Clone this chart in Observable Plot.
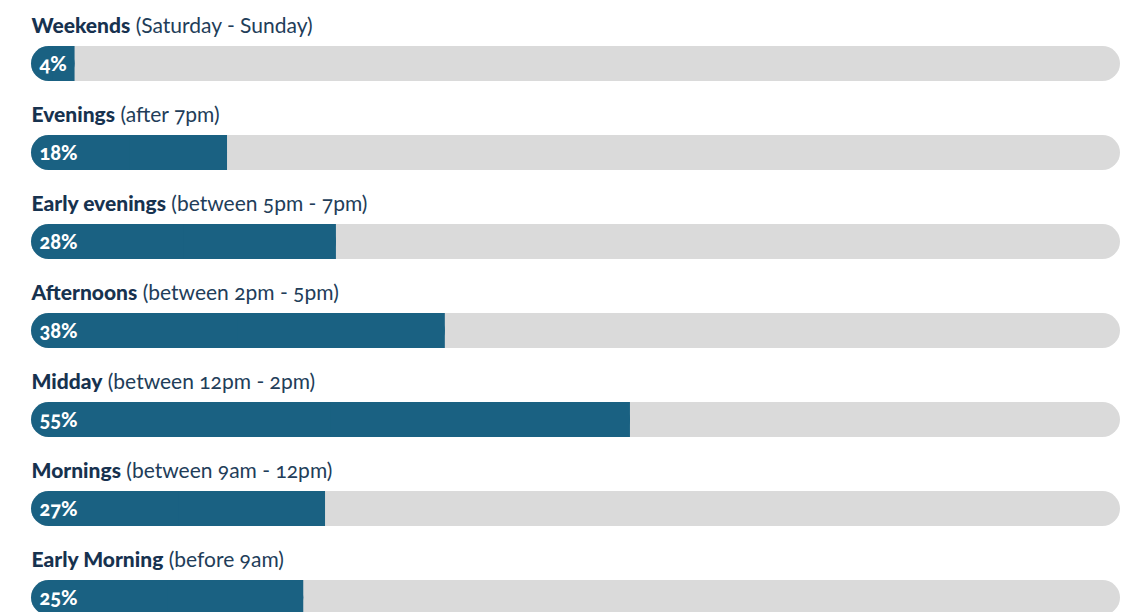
<!DOCTYPE html>
<html>
<head>
<meta charset="utf-8">
<script src="https://cdn.jsdelivr.net/npm/d3@7"></script>
<script src="https://cdn.jsdelivr.net/npm/@observablehq/plot@0.6"></script>
<style>
  html, body { margin: 0; padding: 0; background: #fff; overflow: hidden; }
  #chart svg { display: block; font-variant-numeric: oldstyle-nums; }
</style>
</head>
<body>
<div id="chart"></div>
<script>
const names = ["Weekends", "Evenings", "Early evenings", "Afternoons", "Midday", "Mornings", "Early Morning"];
const details = ["(Saturday - Sunday)", "(after 7pm)", "(between 5pm - 7pm)", "(between 2pm - 5pm)", "(between 12pm - 2pm)", "(between 9am - 12pm)", "(before 9am)"];
const values = [4, 18, 28, 38, 55, 27, 25];

const rows = names.map((name, i) => ({name, detail: details[i], value: values[i]}));

const navy = "#17324f";
const blue = "#1a6182";
const grey = "#dadada";
const barH = 35.3, step = 89.3;

const chart = Plot.plot({
  width: 1129,
  height: 612,
  marginLeft: 31,
  marginRight: 9,
  style: {fontFamily: "Lato, sans-serif", background: "#fff", overflow: "hidden"},
  x: {domain: [0, 100], axis: null},
  y: {type: "band", domain: names, range: [46, 46 + 6 * step + barH], paddingInner: 1 - barH / step, paddingOuter: 0, align: 0, axis: null},
  marks: [
    Plot.barX(rows, {y: "name", x1: 0, x2: 100, fill: grey, rx: barH / 2}),
    Plot.barX(rows, {y: "name", x1: 0, x2: "value", fill: blue, rx: barH / 2}),
    Plot.barX(rows, {y: "name", x1: d => d.value / 2, x2: "value", fill: blue}),
    Plot.text(rows, {y: "name", x: 0, text: d => `${d.value}%`, fill: "#fff", fontWeight: 900, fontSize: 20, textAnchor: "start", lineAnchor: "bottom", dx: 8, dy: 7}),
    Plot.text(rows, {y: "name", x: 0, text: "name", fill: navy, fontWeight: 900, fontSize: 21, textAnchor: "start", lineAnchor: "bottom", dx: 0, dy: -31.5})
  ]
});

// append the regular-weight detail after each bold category name
const detailByName = new Map(rows.map(d => [d.name, d.detail]));
chart.querySelectorAll("text").forEach(t => {
  const name = t.textContent;
  if (!detailByName.has(name)) return;
  const ts = document.createElementNS("http://www.w3.org/2000/svg", "tspan");
  ts.setAttribute("font-weight", "normal");
  ts.setAttribute("fill", "#223d59");
  ts.textContent = "\u00a0" + detailByName.get(name);
  t.appendChild(ts);
});

document.getElementById("chart").appendChild(chart);
</script>
</body>
</html>
